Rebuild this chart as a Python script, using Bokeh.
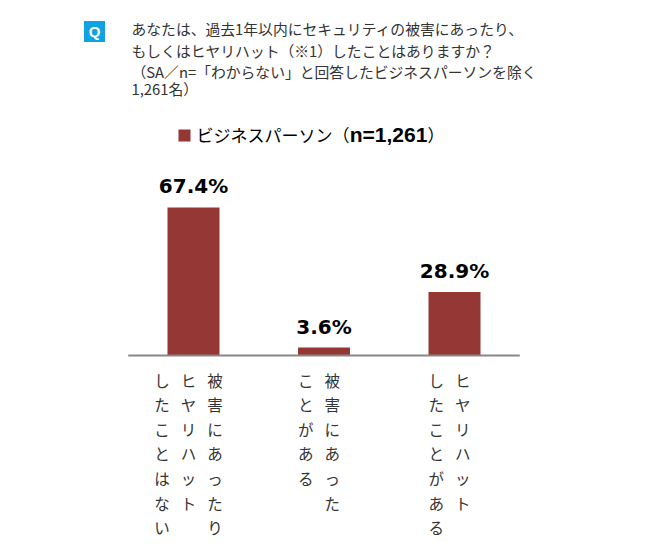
from bokeh.plotting import figure
from bokeh.models import Range1d
from bokeh.core.properties import value
from bokeh.embed import file_html
from bokeh.resources import INLINE

# ---- data ----
categories = [
    "被害にあったり\nヒヤリハット\nしたことはない",
    "被害にあった\nことがある",
    "ヒヤリハット\nしたことがある",
]
percentages = [67.4, 3.6, 28.9]
series_name = "ビジネスパーソン"
series_n = "n=1,261"
question_lines = [
    "あなたは、過去1年以内にセキュリティの被害にあったり、",
    "もしくはヒヤリハット（※1）したことはありますか？",
    "（SA／n=「わからない」と回答したビジネスパーソンを除く",
    "1,261名）",
]

# ---- layout constants (image pixels) ----
W, H = 634, 542
ORG = 0               # canvas origin in the photographed page
PX_X = 130.5          # px per category step
PX_Y = 2.196          # px per percent
X0_PX = 193           # centre of first bar
BASE_PX = 355         # baseline

def X(px):
    return (px - X0_PX) / PX_X

def Y(py):
    return (BASE_PX - py) / PX_Y

JP = "Noto Sans CJK JP"
BAR = "#953735"
TXT = "#333333"

p = figure(width=W, height=H, x_range=Range1d(X(ORG), X(ORG + W)),
           y_range=Range1d(Y(ORG + H), Y(ORG)), x_axis_type=None, y_axis_type=None,
           toolbar_location=None, output_backend="svg", min_border=0)
p.outline_line_color = None
p.background_fill_color = "white"

idx = list(range(len(categories)))

# bars
p.vbar(x=idx, top=percentages, bottom=0, width=52 / PX_X,
       fill_color=BAR, line_color=None)

# baseline
p.segment(x0=[-0.5], x1=[len(categories) - 0.5], y0=[0], y1=[0],
          line_color="#878787", line_width=2)

# value labels
p.text(x=idx, y=[v + 21 / PX_Y for v in percentages],
       text=[f"{v}%" for v in percentages],
       text_font=value("DejaVu Sans"), text_font_style="bold",
       text_font_size="20px", text_align="center", text_baseline="alphabetic",
       text_color="black")

# vertical category labels (columns right-to-left)
cx, cy, ct = [], [], []
COL_GAP = 26.5
SHIFT = -5
for i, lab in enumerate(categories):
    cols = lab.split("\n")
    n = len(cols)
    for j, col in enumerate(cols):
        off = SHIFT + ((n - 1) / 2 - j) * COL_GAP
        for k, ch in enumerate(col):
            cx.append(i + off / PX_X)
            cy.append(Y(379 + 24.6 * k))
            ct.append(ch)
p.text(x=cx, y=cy, text=ct, text_font=value(JP), text_font_size="15.5px",
       text_align="center", text_baseline="middle", text_color=TXT)

# Q badge
p.rect(x=[X(94)], y=[Y(31)], width=21, height=21, width_units="screen",
       height_units="screen", fill_color="#10A3E3", line_color=None)
p.text(x=[X(94)], y=[Y(31)], text=["Q"], text_font=value("Liberation Sans"),
       text_font_style="bold", text_font_size="15px", text_align="center",
       text_baseline="middle", text_color="white")

# question text
q_y = [28, 50, 71, 88]
p.text(x=[X(131)] * len(question_lines), y=[Y(v) for v in q_y],
       text=question_lines, text_font=value(JP), text_font_size="14.8px",
       text_align="left", text_baseline="middle", text_color=TXT)

# legend
p.rect(x=[X(184)], y=[Y(135)], width=12, height=12, width_units="screen",
       height_units="screen", fill_color=BAR, line_color=None)
p.text(x=[X(349)], y=[Y(134)], text=[series_name + "（"], text_font=value(JP),
       text_font_size="17px", text_align="right", text_baseline="middle",
       text_color="black")
p.text(x=[X(388)], y=[Y(134)], text=[series_n], text_font=value("Liberation Sans"),
       text_font_style="bold", text_font_size="21px", text_align="center",
       text_baseline="middle", text_color="black")
p.text(x=[X(427)], y=[Y(134)], text=["）"], text_font=value(JP),
       text_font_size="17px", text_align="left", text_baseline="middle",
       text_color="black")

open("out.html", "w").write(file_html(p, INLINE))
